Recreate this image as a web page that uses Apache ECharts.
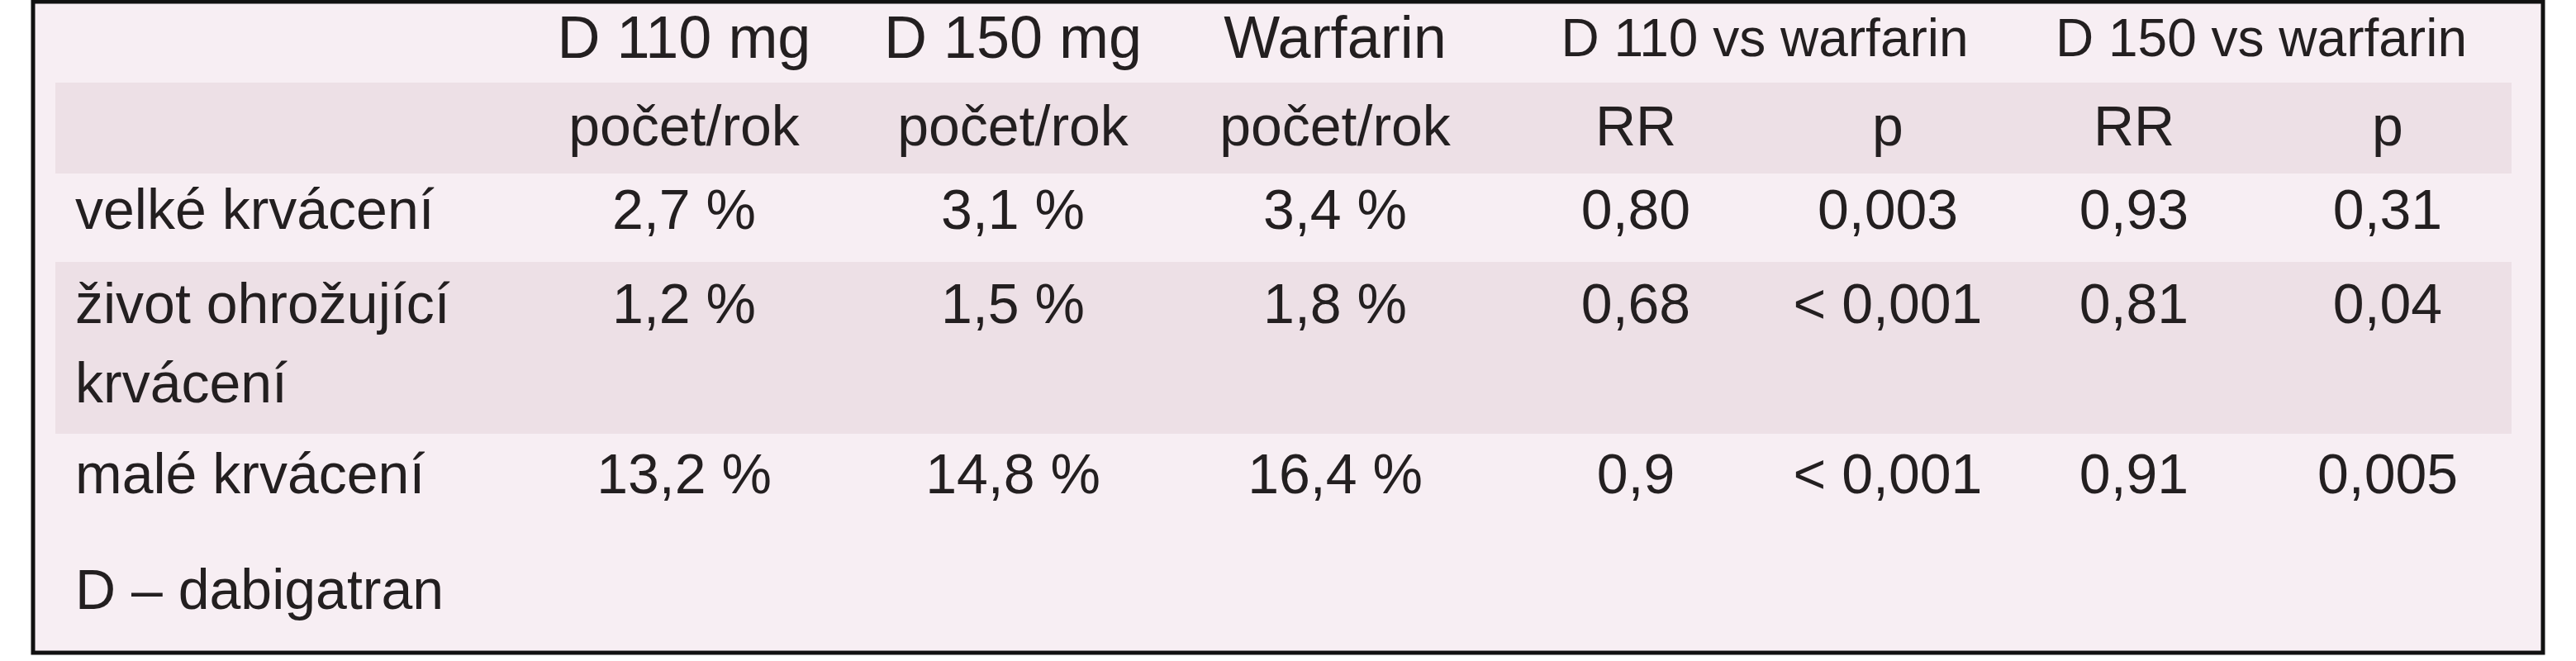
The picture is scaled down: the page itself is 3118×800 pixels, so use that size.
<!DOCTYPE html>
<html><head><meta charset="utf-8">
<script src="https://cdn.jsdelivr.net/npm/echarts@6/dist/echarts.min.js"></script>
<style>html,body{margin:0;padding:0;background:#fff}#c{width:3118px;height:800px}</style>
</head><body><div id="c"></div>
<script>
const headers = ['D 110 mg','D 150 mg','Warfarin','D 110 vs warfarin','D 150 vs warfarin'];
const subHeaders = ['počet/rok','počet/rok','počet/rok','RR','p','RR','p'];
const rowLabels = [['velké krvácení'],['život ohrožující','krvácení'],['malé krvácení']];
const d110 = ['2,7 %','1,2 %','13,2 %'];
const d150 = ['3,1 %','1,5 %','14,8 %'];
const warfarin = ['3,4 %','1,8 %','16,4 %'];
const rr110 = ['0,80','0,68','0,9'];
const p110 = ['0,003','< 0,001','< 0,001'];
const rr150 = ['0,93','0,81','0,91'];
const p150 = ['0,31','0,04','0,005'];
const footnote = 'D – dabigatran';

const colX = [828,1226,1616,1980,2285,2583,2890];
const headX = [828,1226,1616,2136,2737];
const rowY = [258,372,578];
const font = '"Liberation Sans", Arial, sans-serif';
const col = '#231f20';
const g = [];
g.push({type:'rect',shape:{x:40,y:2,width:3038,height:788},style:{fill:'#f7eef3',stroke:'#111',lineWidth:5}});
g.push({type:'rect',shape:{x:67,y:100,width:2973,height:110},style:{fill:'#ede0e6'}});
g.push({type:'rect',shape:{x:67,y:317,width:2973,height:208},style:{fill:'#ede0e6'}});
function t(x,y,s,align,size){g.push({type:'text',x:x,y:y,style:{text:s,fill:col,font:(size||70)+'px '+font,textAlign:align||'center',textVerticalAlign:'middle'}});}
headers.forEach((h,i)=>t(headX[i],50,h,'center',i>2?64:72));
subHeaders.forEach((h,i)=>t(colX[i],157,h,'center',68));
const cols=[d110,d150,warfarin,rr110,p110,rr150,p150];
rowLabels.forEach((lines,r)=>{
  lines.forEach((l,k)=>t(91,rowY[r]+k*96,l,'left',68));
  cols.forEach((c,i)=>t(colX[i],rowY[r],c[r],'center',68));
});
t(91,718,footnote,'left',68);
const ch = echarts.init(document.getElementById('c'));
ch.setOption({animation:false,graphic:g});
</script></body></html>
